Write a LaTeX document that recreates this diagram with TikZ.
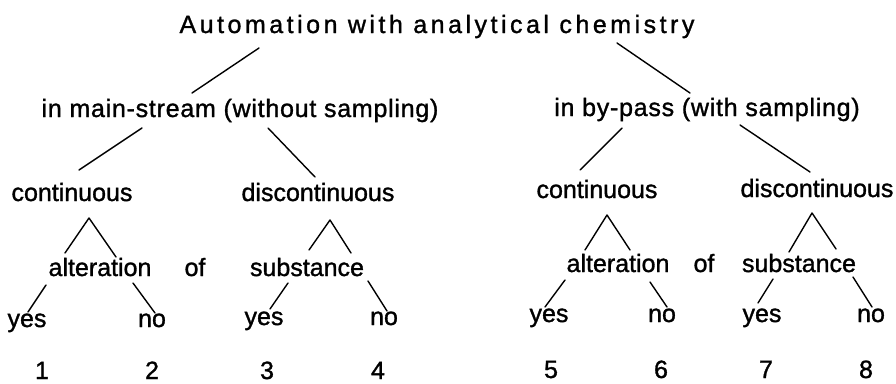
\documentclass[tikz,border=0pt]{standalone}
\usepackage{fontspec}
\setmainfont[FakeBold=1.2]{Liberation Sans}
\newfontfamily\titlefont[LetterSpace=14,FakeBold=1.2]{Liberation Sans}
\newfontfamily\widefont[LetterSpace=3,FakeBold=1.2]{Liberation Sans}
\begin{document}
\begin{tikzpicture}[x=1pt,y=-1pt,
  lbl/.style={anchor=base,inner sep=0pt,font=\fontsize{25}{30}\selectfont},
  wlbl/.style={anchor=base,inner sep=0pt,font=\widefont\fontsize{25}{30}\selectfont},
  ttl/.style={anchor=base,inner sep=0pt,font=\titlefont\fontsize{25}{30}\selectfont},
  link/.style={line width=1.4pt,line cap=round,line join=round}]
\useasboundingbox (0,0) rectangle (896,383);
% texts
\node[ttl] (title) at (437,33) {Automation with analytical chemistry};
\node[wlbl] (main) at (240,117) {in main-stream (without sampling)};
\node[wlbl] (bypass) at (707,116) {in by-pass (with sampling)};
\node[lbl] (contL) at (72,201) {continuous};
\node[lbl] (discL) at (318,201) {discontinuous};
\node[lbl] (contR) at (597,198) {continuous};
\node[lbl] (discR) at (817,197) {discontinuous};
\node[lbl] (altL) at (100,276) {alteration};
\node[lbl] (ofL) at (195,276) {of};
\node[lbl] (subL) at (307,276) {substance};
\node[lbl] (altR) at (618,272) {alteration};
\node[lbl] (ofR) at (704,272) {of};
\node[lbl] (subR) at (799,272) {substance};
\node[lbl] (yes1) at (27,327) {yes};
\node[lbl] (no2) at (152,327) {no};
\node[lbl] (yes3) at (264,325) {yes};
\node[lbl] (no4) at (384,325) {no};
\node[lbl] (yes5) at (549,322) {yes};
\node[lbl] (no6) at (662,322) {no};
\node[lbl] (yes7) at (762,322) {yes};
\node[lbl] (no8) at (871,322) {no};
\node[lbl] (n1) at (42,379) {1};
\node[lbl] (n2) at (152,379) {2};
\node[lbl] (n3) at (267,379) {3};
\node[lbl] (n4) at (378,379) {4};
\node[lbl] (n5) at (551,378) {5};
\node[lbl] (n6) at (661,378) {6};
\node[lbl] (n7) at (766,378) {7};
\node[lbl] (n8) at (866,378) {8};
% connector end points
\coordinate (tA) at (259,48);   \coordinate (mA) at (192,93);
\coordinate (tB) at (617,43);   \coordinate (bA) at (690,93);
\coordinate (mB) at (142,128);  \coordinate (cLa) at (79,170);
\coordinate (mC) at (268,128);  \coordinate (dLa) at (315,177);
\coordinate (bB) at (622,128);  \coordinate (cRa) at (580,170);
\coordinate (bC) at (740,125);  \coordinate (dRa) at (810,172);
\coordinate (cLl) at (65,253);  \coordinate (cLt) at (89,218);  \coordinate (cLr) at (116,257);
\coordinate (dLl) at (309,250); \coordinate (dLt) at (330,220); \coordinate (dLr) at (351,253);
\coordinate (cRl) at (585,250); \coordinate (cRt) at (607,215); \coordinate (cRr) at (630,250);
\coordinate (dRl) at (789,252); \coordinate (dRt) at (812,213); \coordinate (dRr) at (836,249);
\coordinate (aL1) at (46,285);  \coordinate (y1) at (28,312);
\coordinate (aL2) at (133,283); \coordinate (o2) at (155,313);
\coordinate (sL1) at (288,283); \coordinate (y3) at (270,309);
\coordinate (sL2) at (368,281); \coordinate (o4) at (387,311);
\coordinate (aR1) at (565,280); \coordinate (y5) at (545,307);
\coordinate (aR2) at (650,282); \coordinate (o6) at (667,307);
\coordinate (sR1) at (773,279); \coordinate (y7) at (758,303);
\coordinate (sR2) at (853,277); \coordinate (o8) at (872,307);
% connectors
\draw[link] (tA) -- (mA);
\draw[link] (tB) -- (bA);
\draw[link] (mB) -- (cLa);
\draw[link] (mC) -- (dLa);
\draw[link] (bB) -- (cRa);
\draw[link] (bC) -- (dRa);
\draw[link] (cLl) -- (cLt) -- (cLr);
\draw[link] (dLl) -- (dLt) -- (dLr);
\draw[link] (cRl) -- (cRt) -- (cRr);
\draw[link] (dRl) -- (dRt) -- (dRr);
\draw[link] (aL1) -- (y1);
\draw[link] (aL2) -- (o2);
\draw[link] (sL1) -- (y3);
\draw[link] (sL2) -- (o4);
\draw[link] (aR1) -- (y5);
\draw[link] (aR2) -- (o6);
\draw[link] (sR1) -- (y7);
\draw[link] (sR2) -- (o8);
\end{tikzpicture}
\end{document}
